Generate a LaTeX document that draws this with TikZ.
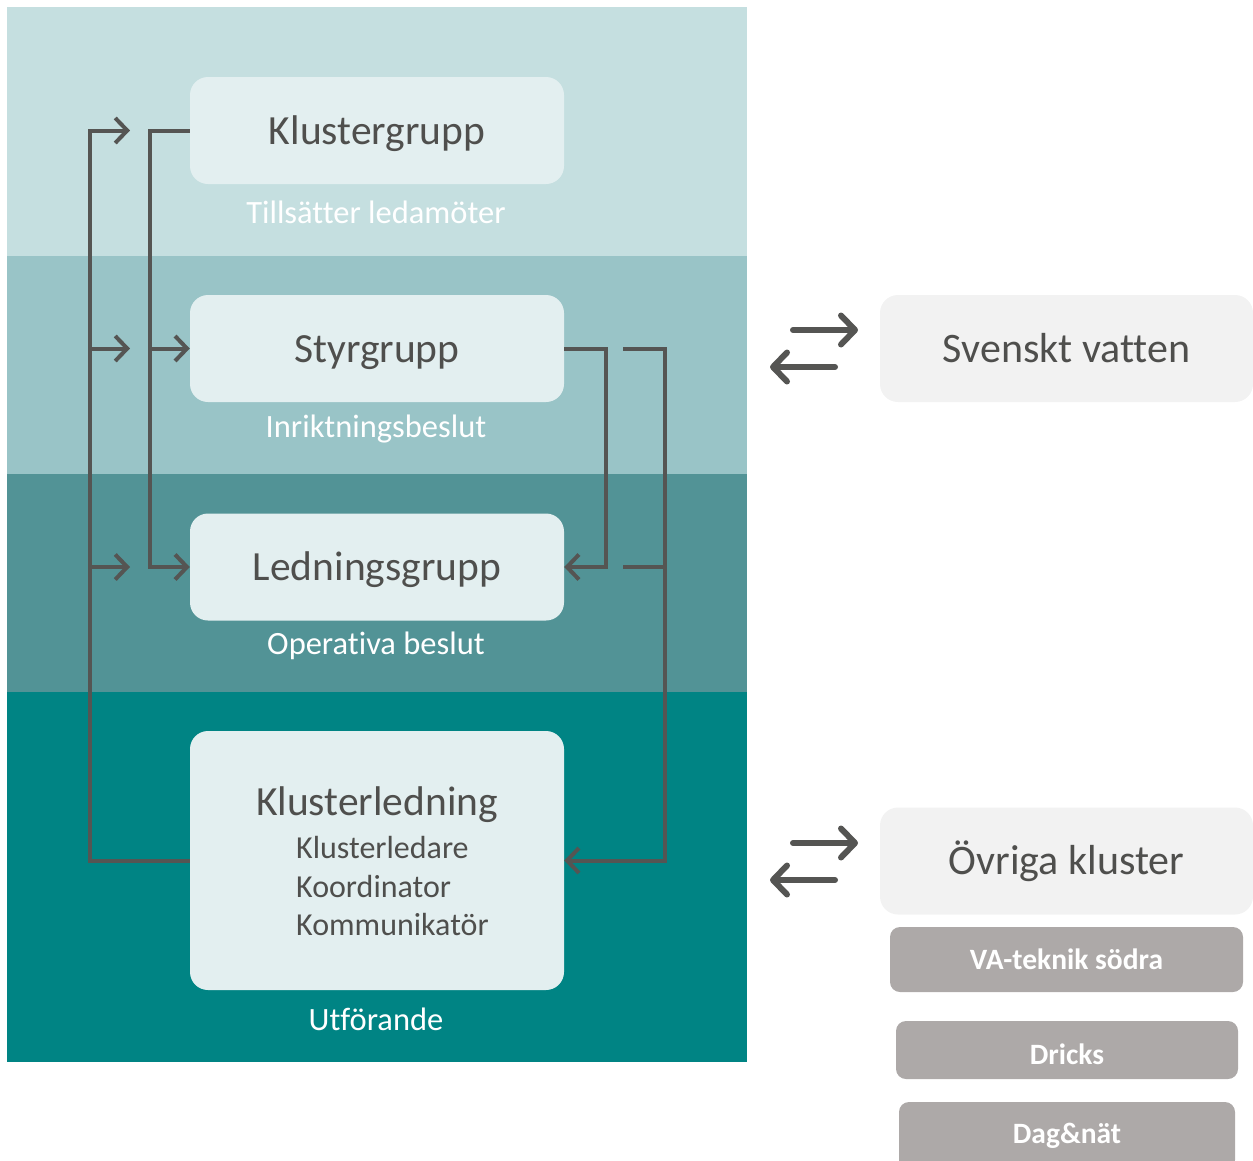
\documentclass[tikz,border=0pt]{standalone}
\usepackage{fontspec}
\setmainfont{Carlito}[Ligatures=NoCommon]
\usetikzlibrary{arrows.meta}
\definecolor{bandA}{HTML}{C5DFE0}
\definecolor{bandB}{HTML}{99C4C7}
\definecolor{bandC}{HTML}{529396}
\definecolor{bandD}{HTML}{008484}
\definecolor{boxfill}{HTML}{E3EFF0}
\definecolor{extfill}{HTML}{F2F2F2}
\definecolor{greyfill}{HTML}{ADA9A8}
\definecolor{ink}{HTML}{4F4F4D}
\definecolor{lncol}{HTML}{555553}
\tikzset{
  mainbox/.style={fill=boxfill, rounded corners=18pt, minimum width=374pt, minimum height=107pt, inner sep=0pt, text=ink, font=\fontsize{41.5}{46}\selectfont, text height=33pt, text depth=6pt},
  extbox/.style={fill=extfill, rounded corners=18pt, minimum width=373pt, minimum height=107pt, inner sep=0pt, text=ink, font=\fontsize{42}{46}\selectfont},
  greybox/.style={fill=greyfill, rounded corners=10pt, inner sep=0pt, text=white, font=\fontsize{29.5}{33}\selectfont\bfseries},
  sublabel/.style={text=white, font=\fontsize{32.5}{36}\selectfont, inner sep=0pt},
  ln/.style={draw=lncol, line width=4pt},
  ar/.style={ln, -{Straight Barb[length=12pt,width=25pt]}},
  dbl/.style={draw=lncol, line width=6pt, line cap=round, -{Straight Barb[length=14pt,width=29pt,round]}}
}
\begin{document}
\begin{tikzpicture}[x=1pt,y=-1pt]
\useasboundingbox (0,0) rectangle (1253,1160);
% bands
\fill[bandA] (7,7) rectangle (747,256);
\fill[bandB] (7,256) rectangle (747,474);
\fill[bandC] (7,474) rectangle (747,692);
\fill[bandD] (7,692) rectangle (747,1062);
% main boxes
\node[mainbox] (kg) at (377,130.5) {Klustergrupp};
\node[mainbox] (sg) at (377,348.5) {Styrgrupp};
\node[mainbox] (lg) at (377,567) {Ledningsgrupp};
\node[mainbox, minimum height=259pt] (kl) at (377,860.5) {};
\node[text=ink, font=\fontsize{41.5}{46}\selectfont, inner sep=0pt, anchor=base] (klt) at (377,815) {Klusterledning};
\node[text=ink, font=\fontsize{32}{39}\selectfont, inner sep=0pt, anchor=base west] (kl1) at (296,858) {Klusterledare};
\node[text=ink, font=\fontsize{32}{39}\selectfont, inner sep=0pt, anchor=base west] (kl2) at (296,897) {Koordinator};
\node[text=ink, font=\fontsize{32}{39}\selectfont, inner sep=0pt, anchor=base west] (kl3) at (296,935) {Kommunikatör};
% sublabels
\node[sublabel] (s1) at (376,212) {Tillsätter ledamöter};
\node[sublabel] (s2) at (376,429) {Inriktningsbeslut};
\node[sublabel] (s3) at (376,646) {Operativa beslut};
\node[sublabel] (s4) at (376,1019) {Utförande};
% free ends
\coordinate (t1) at (130,130.5);
\coordinate (t2) at (130,348.5);
\coordinate (t3) at (130,567);
\coordinate (r1) at (623,348.5);
\coordinate (r2) at (623,567);
% left connectors
\draw[ar] (kl.west) -| (90,130.5) -- (t1);
\draw[ar] (90,348.5) -- (t2);
\draw[ar] (90,567) -- (t3);
\draw[ar] (kg.west) -| (150,567) -- (lg.west);
\draw[ar] (150,348.5) -- (sg.west);
% right connectors
\draw[ar] (sg.east) -| (606,567) -- (lg.east);
\draw[ar] (r1) -| (665,860.5) -- (kl.east);
\draw[ln] (665,567) -- (r2);
% external boxes
\node[extbox] (sv) at (1066.5,348.5) {Svenskt vatten};
\node[extbox] (ok) at (1066.5,861) {Övriga kluster};
\node[greybox, minimum width=353pt, minimum height=65pt] (va) at (1066.5,959.5) {VA-teknik södra};
\node[greybox, minimum width=342pt, minimum height=58pt, text height=28pt, text depth=0pt] (dr) at (1067,1050) {Dricks};
\node[greybox, minimum width=336pt, minimum height=68pt] (dn) at (1067,1136) {Dag\&nät};
% exchange arrows
\coordinate (e1a) at (793,330); \coordinate (e1b) at (858,330);
\coordinate (e2a) at (835,367); \coordinate (e2b) at (770,367);
\coordinate (e3a) at (793,843); \coordinate (e3b) at (858,843);
\coordinate (e4a) at (835,880); \coordinate (e4b) at (770,880);
\draw[dbl] (e1a) -- (e1b);
\draw[dbl] (e2a) -- (e2b);
\draw[dbl] (e3a) -- (e3b);
\draw[dbl] (e4a) -- (e4b);
\end{tikzpicture}
\end{document}
